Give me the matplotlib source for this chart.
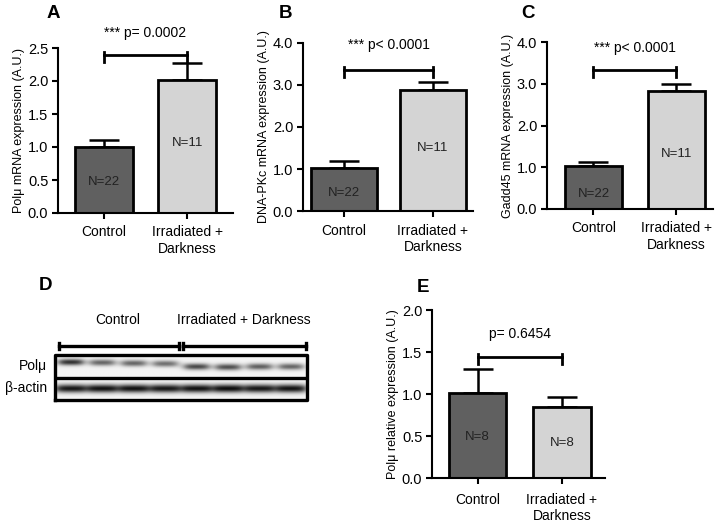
import numpy as np
import matplotlib.pyplot as plt

plt.rcParams['font.family'] = ['Liberation Sans', 'DejaVu Sans']

groups = ['Control', 'Irradiated +\nDarkness']

# panel A: Pol mu mRNA
a_mean = [1.00, 2.02]
a_err = [0.11, 0.25]
a_n = ['N=22', 'N=11']
# panel B: DNA-PKc mRNA
b_mean = [1.02, 2.87]
b_err = [0.17, 0.21]
b_n = ['N=22', 'N=11']
# panel C: Gadd45 mRNA
c_mean = [1.02, 2.82]
c_err = [0.11, 0.17]
c_n = ['N=22', 'N=11']
# panel E: Pol mu protein
e_mean = [1.01, 0.85]
e_err = [0.29, 0.12]
e_n = ['N=8', 'N=8']

# panel D: western blot band strengths, 8 lanes
polmu_bands = [0.85, 0.62, 0.62, 0.58, 0.75, 0.72, 0.65, 0.62]
actin_bands = [0.95, 0.97, 0.97, 0.95, 0.97, 0.99, 0.95, 0.97]

dark = '#606060'
light = '#d4d4d4'

W, H = 723, 525
fig = plt.figure(figsize=(W / 100, H / 100), dpi=100)


def px_axes(x0, y0, x1, y1):
    return fig.add_axes([x0 / W, 1 - y1 / H, (x1 - x0) / W, (y1 - y0) / H])


def bar_panel(ax, means, errs, ns, ylim, yticks, ylabel, width, xlim,
              ptext, p_y, sig_y, n_y, px_unit, xpad=5):
    x = np.arange(2)
    ax.bar(x, means, width=width, color=[dark, light], edgecolor='black',
           linewidth=2.0, zorder=2)
    ax.errorbar(x, means, yerr=[np.zeros(2), errs], fmt='none', ecolor='black',
                elinewidth=1.8, capsize=10.5, capthick=1.8, zorder=1)
    for xi, t, yy in zip(x, ns, n_y):
        ax.text(xi, yy, t, ha='center', va='center', fontsize=9.5, color='#222222')
    ax.plot([0, 1], [sig_y, sig_y], color='black', lw=2.0, clip_on=False)
    for xi in (0, 1):
        ax.plot([xi, xi], [sig_y - 7 * px_unit, sig_y + 3 * px_unit],
                color='black', lw=2.0, clip_on=False)
    ax.text(0.5, p_y, ptext, ha='center', va='center', fontsize=10)
    ax.set_xlim(*xlim)
    ax.set_ylim(*ylim)
    ax.set_yticks(yticks)
    ax.set_yticklabels(['{:.1f}'.format(v) for v in yticks], fontsize=10.5)
    ax.set_xticks(x)
    ax.set_xticklabels(groups, fontsize=10)
    ax.set_ylabel(ylabel, fontsize=9, labelpad=2)
    for s in ('top', 'right'):
        ax.spines[s].set_visible(False)
    for s in ('left', 'bottom'):
        ax.spines[s].set_linewidth(1.5)
    ax.tick_params(width=1.5, length=4, pad=3)
    ax.tick_params(axis='x', pad=xpad)


axA = px_axes(58, 48, 233, 213)
bar_panel(axA, a_mean, a_err, a_n, (0, 2.5), [0, 0.5, 1.0, 1.5, 2.0, 2.5],
          'Polμ mRNA expression (A.U.)', 0.69, (-0.55, 1.55),
          '*** p= 0.0002', 2.73, 2.40, [0.47, 1.06], 2.5 / 165)

axB = px_axes(303, 43, 473, 211)
bar_panel(axB, b_mean, b_err, b_n, (0, 4.0), [0, 1, 2, 3, 4],
          'DNA-PKc mRNA expression (A.U.)', 0.74, (-0.46, 1.45),
          '*** p< 0.0001', 3.95, 3.36, [0.43, 1.50], 4.0 / 168)

axC = px_axes(547, 42, 713, 209)
bar_panel(axC, c_mean, c_err, c_n, (0, 4.0), [0, 1, 2, 3, 4],
          'Gadd45 mRNA expression (A.U.)', 0.69, (-0.56, 1.44),
          '*** p< 0.0001', 3.86, 3.33, [0.36, 1.32], 4.0 / 167)

axE = px_axes(432, 310, 605, 478)
bar_panel(axE, e_mean, e_err, e_n, (0, 2.0), [0, 0.5, 1.0, 1.5, 2.0],
          'Polμ relative expression (A.U.)', 0.68, (-0.54, 1.51),
          'p= 0.6454', 1.71, 1.44, [0.49, 0.42], 2.0 / 168, xpad=7)

# panel D: blot drawn from band strengths
axD = px_axes(55, 310, 307, 400)
axD.axis('off')


def strip(bands, centre, sigma, half, offsets):
    nx, ny = 400, 60
    xs = np.linspace(0, 8, nx)
    ys = np.linspace(0, 1, ny)
    img = np.zeros((ny, nx))
    for i, amp in enumerate(bands):
        c = i + 0.5
        edge = 1 / (1 + np.exp(-(xs - (c - half)) * 12)) - 1 / (1 + np.exp(-(xs - (c + half)) * 12))
        prof = np.exp(-((ys - centre - offsets[i]) ** 2) / (2 * sigma ** 2))
        img += amp * np.outer(prof, edge)
    return 0.96 - 0.92 * np.clip(img, 0, 1)


pol_off = [0.1, 0.08, 0.05, 0.03, -0.1, -0.12, -0.1, -0.1]
pol_img = strip(polmu_bands, 0.55, 0.1, 0.38, pol_off)
act_img = strip(actin_bands, 0.5, 0.13, 0.47, [0] * 8)
axD.imshow(pol_img, extent=(0, 8, 1, 2), cmap='gray', vmin=0, vmax=1,
           aspect='auto', origin='lower')
axD.imshow(act_img, extent=(0, 8, 0, 1), cmap='gray', vmin=0, vmax=1,
           aspect='auto', origin='lower')
axD.plot([0, 8, 8, 0, 0], [0, 0, 2, 2, 0], color='black', lw=2.4, clip_on=False)
axD.plot([0, 8], [1, 1], color='black', lw=2.4)
axD.set_xlim(0, 8)
axD.set_ylim(0, 4)

for x0, x1 in ((0.14, 3.93), (4.07, 7.96)):
    axD.plot([x0, x1], [2.4, 2.4], color='black', lw=2.4, clip_on=False)
    for xx in (x0, x1):
        axD.plot([xx, xx], [2.25, 2.55], color='black', lw=2.4, clip_on=False)
axD.text(2.0, 3.55, 'Control', ha='center', va='center', fontsize=10)
axD.text(6.0, 3.55, 'Irradiated + Darkness', ha='center', va='center', fontsize=10)
axD.text(-0.25, 1.52, 'Polμ', ha='right', va='center', fontsize=10)
axD.text(-0.25, 0.55, 'β-actin', ha='right', va='center', fontsize=10)

for lab, x, y in (('A', 53, 13), ('B', 286, 13), ('C', 528, 13), ('D', 46, 285), ('E', 423, 288)):
    fig.text(x / W, 1 - y / H, lab, fontsize=13.5, fontweight='bold', ha='center', va='center')

fig.savefig('out.png', dpi=100)
